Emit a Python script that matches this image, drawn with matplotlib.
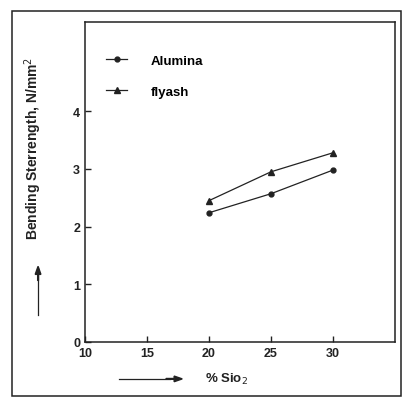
import matplotlib
matplotlib.use("Agg")
import matplotlib.pyplot as plt
from matplotlib.patches import Rectangle, FancyArrow

# Data
sio2 = [20, 25, 30]
alumina = [2.24, 2.57, 2.98]
flyash = [2.45, 2.95, 3.28]
x_ticks = [10, 15, 20, 25, 30]
y_ticks = [0, 1, 2, 3, 4]

plt.rcParams['font.family'] = ['Liberation Sans', 'DejaVu Sans']
ink = "#222222"

fig = plt.figure(figsize=(4.05, 4.02), dpi=100)
ax = fig.add_axes([0.21, 0.147, 0.765, 0.796])

ax.plot(sio2, alumina, color=ink, lw=0.9, marker="o", ms=3.5, label="Alumina")
ax.plot(sio2, flyash, color=ink, lw=0.9, marker="^", ms=5, label="flyash")

ax.set_xlim(10, 35)
ax.set_ylim(0, 5.55)
ax.set_xticks(x_ticks)
ax.set_yticks(y_ticks)
ax.tick_params(direction="in", length=4, width=1, labelsize=9, colors=ink)
for lbl in ax.get_xticklabels() + ax.get_yticklabels():
    lbl.set_fontweight("bold")
for s in ax.spines.values():
    s.set_linewidth(1.1)
    s.set_color(ink)

ax.legend(loc="upper left", bbox_to_anchor=(0.03, 0.935), frameon=False,
          handlelength=1.6, handletextpad=1.8, labelspacing=1.4,
          prop={"weight": "bold", "size": 9.5})

# axis titles with arrows, as in the original figure
fig.text(0.082, 0.63, "Bending Sterrength, N/mm$^2$", rotation=90, ha="center", va="center",
         fontsize=10, fontweight="bold", color=ink)
fig.text(0.56, 0.055, "% Sio$_2$", ha="center", va="center",
         fontsize=9.5, fontweight="bold", color=ink)
fig.add_artist(plt.Line2D([0.094, 0.094], [0.215, 0.33], color=ink, lw=0.9))
fig.patches.append(FancyArrow(0.094, 0.30, 0, 0.035, width=0.002,
                   head_width=0.014, head_length=0.02, color=ink,
                   transform=fig.transFigure, length_includes_head=True))
fig.add_artist(plt.Line2D([0.295, 0.42], [0.055, 0.055], color=ink, lw=0.9))
fig.patches.append(FancyArrow(0.41, 0.055, 0.04, 0, width=0.002,
                   head_width=0.014, head_length=0.02, color=ink,
                   transform=fig.transFigure, length_includes_head=True))

# outer frame
fig.patches.append(Rectangle((0.03, 0.013), 0.96, 0.957, fill=False, lw=1.1,
                             edgecolor=ink, transform=fig.transFigure))

fig.savefig("out.png", dpi=100)
